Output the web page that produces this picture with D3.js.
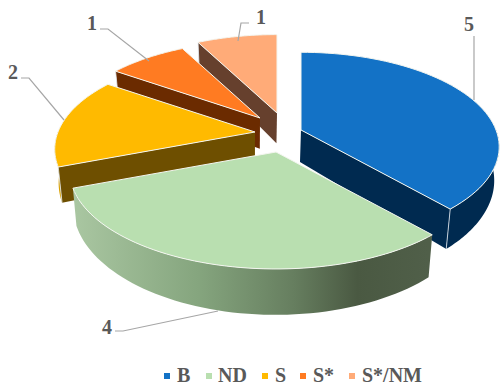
<!DOCTYPE html>
<html><head><meta charset="utf-8">
<style>html,body{margin:0;padding:0;background:#fff}svg{display:block}</style>
<script src="https://cdn.jsdelivr.net/npm/d3@7/dist/d3.min.js"></script>
</head><body><svg id="c" width="503" height="386"></svg>
<script>
const categories = ["B", "ND", "S", "S*", "S*/NM"];
const values = [5, 4, 2, 1, 1];
const topColors = ["#1372C6", "#B9DFB0", "#FFBA00", "#FF7B22", "#FFAB78"];
const cutColors = ["#002A50", "none", "#6E4F00", "#6B2B00", "#66402D"];
const rimColors = ["#002A50", "url(#ndRim)", "#D9A000", "#6B2B00", "#66402D"];

// layout
const RX = 197, RY = 92.5, K = 0.18;
const sliceAnchor = [[301,130],[276,152],[255,132],[260,118],[277,113]];
const sliceScale = [0.99,1.03,1,0.98,1];
const cutEdge = ["end", null, "start", "start", "start"];
const leaders = [
  [[474,36],[474,100]],
  [[115,331],[123,331],[218,311]],
  [[21,78],[29,78],[64,120]],
  [[100,29],[108,29],[149,61]],
  [[249,23],[241,23],[238,41]]
];
const labelPos = [[469,31],[107,334],[13,79],[92,30],[261,24]];
const legendSwatch = [167,209,265,303,352];
const legendText = [177,218,275,313,362];

const svg = d3.select("#c");
const defs = svg.append("defs");
const g = defs.append("linearGradient").attr("id","ndRim").attr("gradientUnits","userSpaceOnUse")
  .attr("x1",75).attr("x2",428).attr("y1",0).attr("y2",0);
[[0,"#A9C6A1"],[0.35,"#85A57E"],[0.62,"#667E5F"],[0.8,"#4A5942"],[1,"#505F49"]]
  .forEach(([o,c])=>g.append("stop").attr("offset",o).attr("stop-color",c));

const pie = d3.pie().sort(null).value(d=>d);
const arcs = pie(values);
const line = d3.line();

// perspective projection of a unit-disc point onto the page
function proj(angle, r, anchor){
  const X = Math.sin(angle)*r, Y = Math.cos(angle)*r, s = 1/(1+K*Y);
  return [anchor[0]+RX*X*s, anchor[1]-RY*Y*s];
}
const drop = p => [p[0]-(p[0]-250)*0.02, p[1]+19+0.1*p[1]];
function arcPts(a0,a1,anchor,r){
  return d3.range(0,61).map(i=>proj(a0+(a1-a0)*i/60,r,anchor));
}
const closed = pts => line(pts)+"Z";

const order = [4,3,2,0,1];
order.forEach(i=>{
  const a = arcs[i], anchor = sliceAnchor[i], r = sliceScale[i];
  const top = arcPts(a.startAngle,a.endAngle,anchor,r);
  const layer = svg.append("g");
  // outer rim: only the near half of the disc shows a wall
  const r0 = Math.max(a.startAngle, Math.PI/2), r1 = Math.min(a.endAngle, 3*Math.PI/2);
  if(r1>r0){
    const rim = arcPts(r0,r1,anchor,r);
    layer.append("path").attr("d",closed(rim.concat(rim.map(drop).reverse()))).attr("fill",rimColors[i]);
  }
  // cut wall
  if(cutEdge[i]){
    const e = cutEdge[i]==="end"?top[top.length-1]:top[0];
    layer.append("path").attr("d",closed([anchor,e,drop(e),drop(anchor)])).attr("fill",cutColors[i]);
    layer.append("path").attr("d",line([e,drop(e)])).attr("stroke","#E6ECF2").attr("stroke-width",0.8).attr("fill","none");
  }
  // top face
  layer.append("path").attr("d",closed([anchor].concat(top)))
    .attr("fill",topColors[i]).attr("stroke","#F4F6F0").attr("stroke-width",1).attr("stroke-linejoin","round");
});

// leader lines and data labels
leaders.forEach(pts=>svg.append("path").attr("d",line(pts)).attr("fill","none").attr("stroke","#A6A6A6").attr("stroke-width",1.2));
const serif = "'Liberation Serif','Times New Roman',serif";
svg.selectAll("text.val").data(values).join("text").attr("class","val")
  .attr("x",(d,i)=>labelPos[i][0]).attr("y",(d,i)=>labelPos[i][1]).attr("text-anchor","middle")
  .attr("font-family",serif).attr("font-weight","bold").attr("font-size",20).attr("fill","#595959").text(d=>d);

// legend
svg.selectAll("rect.sw").data(categories).join("rect").attr("class","sw")
  .attr("x",(d,i)=>legendSwatch[i]-3).attr("y",373).attr("width",6).attr("height",6).attr("fill",(d,i)=>topColors[i]);
svg.selectAll("text.lg").data(categories).join("text").attr("class","lg")
  .attr("x",(d,i)=>legendText[i]).attr("y",382)
  .attr("font-family",serif).attr("font-weight","bold").attr("font-size",20).attr("fill","#595959").text(d=>d);
</script></body></html>
